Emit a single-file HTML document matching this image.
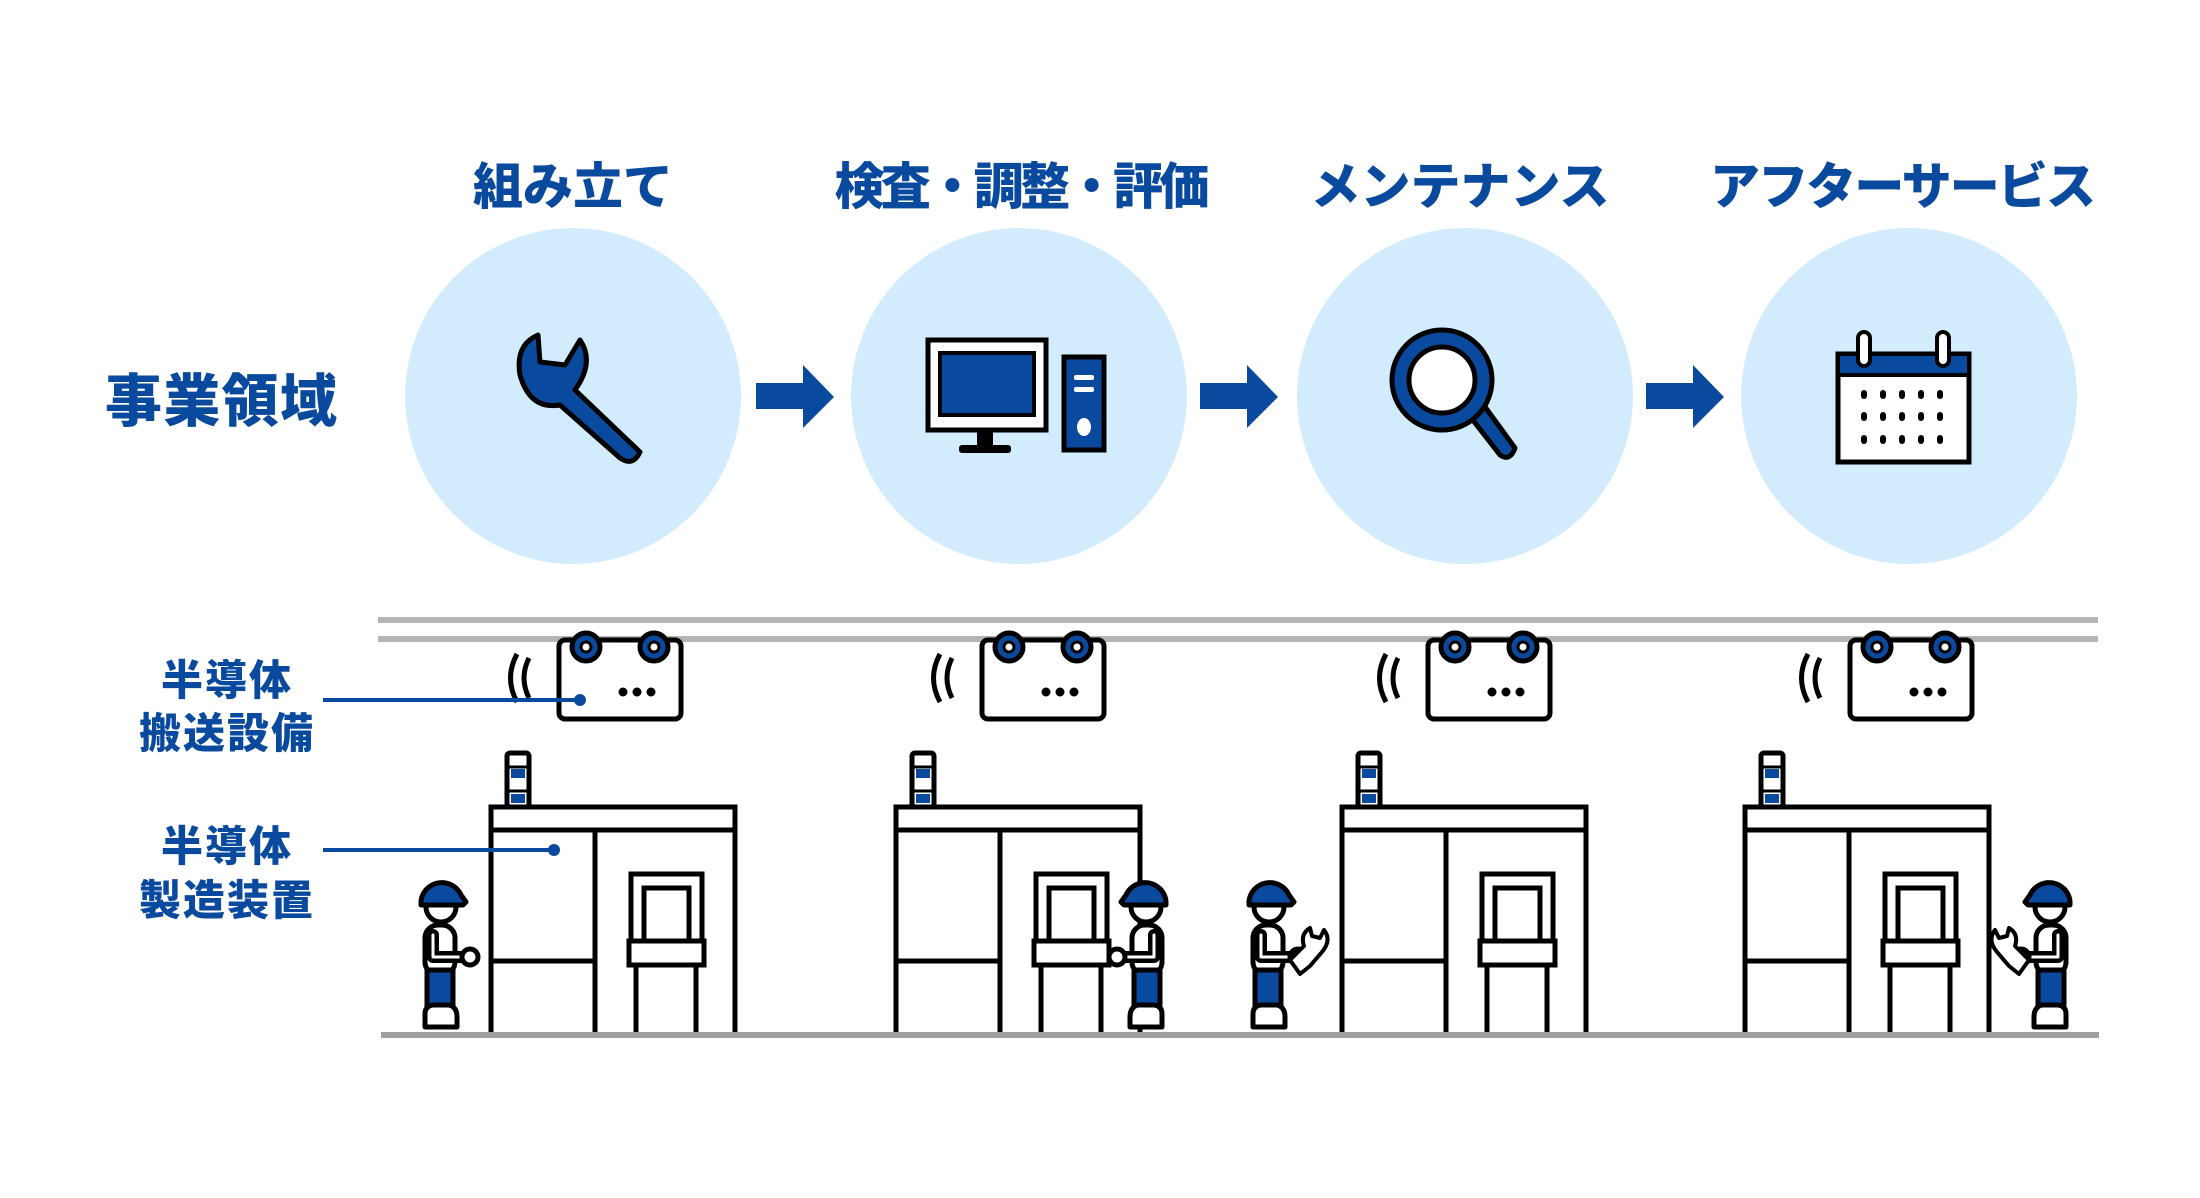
<!DOCTYPE html>
<html><head><meta charset="utf-8"><style>
html,body{margin:0;padding:0;background:#fff;}
svg{display:block}
text{font-family:"Liberation Sans","Noto Sans CJK JP",sans-serif;font-weight:900;fill:#0a4a9e}
</style></head><body>
<svg width="2200" height="1198" viewBox="0 0 2200 1198" xmlns="http://www.w3.org/2000/svg">
<defs>
<g id="worker" stroke="#000" stroke-width="5" stroke-linejoin="round" stroke-linecap="round">
  <rect x="6" y="48" width="30" height="50" rx="13" fill="#fff"/>
  <rect x="8" y="93" width="26" height="44" fill="#0a4a9e"/>
  <line x1="8" y1="93" x2="34" y2="93"/>
  <path d="M6 137 Q6 129 14 128 L30 128 Q38 130 38 140 L38 150 L6 150 Z" fill="#fff"/>
  <circle cx="22" cy="30" r="15" fill="#fff"/>
  <path d="M2 24 A21 21 0 0 1 42 18 L47 25 L44 28 L2 28 Z" fill="#0a4a9e"/>
  <path d="M14 58 L14 80 L46 80" fill="none" stroke-width="12" stroke="#000"/>
  <path d="M14 58 L14 80 L46 80" fill="none" stroke-width="3" stroke="#fff"/>
  <circle cx="51" cy="80" r="8" fill="#fff"/>
</g>
<g id="machine" stroke="#000" stroke-width="5" fill="#fff">
  <rect x="16" y="-54" width="22" height="54" rx="3" fill="#fff"/>
  <rect x="20" y="-38" width="14" height="9" fill="#0a4a9e" stroke="none"/>
  <rect x="20" y="-13" width="14" height="9" fill="#0a4a9e" stroke="none"/>
  <line x1="18" y1="-40" x2="36" y2="-40" stroke-width="3"/>
  <line x1="18" y1="-16" x2="36" y2="-16" stroke-width="3"/>
  <rect x="0" y="0" width="244" height="23" fill="#fff"/>
  <path d="M0 23 V225 M244 23 V225 M104 23 V225 M0 154 H104" fill="none"/>
  <rect x="140" y="67" width="71" height="67"/>
  <rect x="153" y="81" width="45" height="53"/>
  <rect x="138" y="134" width="75" height="24"/>
  <path d="M145 158 V225 M205 158 V225" fill="none"/>
</g>
<g id="carrier" stroke="#000" stroke-width="5">
  <rect x="0" y="0" width="122" height="79" rx="6" fill="#fff"/>
  <circle cx="27" cy="7" r="14" fill="#0a4a9e"/>
  <circle cx="27" cy="7" r="5" fill="#fff" stroke-width="3"/>
  <circle cx="95" cy="7" r="14" fill="#0a4a9e"/>
  <circle cx="95" cy="7" r="5" fill="#fff" stroke-width="3"/>
  <circle cx="64" cy="52" r="4.5" fill="#000" stroke="none"/>
  <circle cx="78" cy="52" r="4.5" fill="#000" stroke="none"/>
  <circle cx="92" cy="52" r="4.5" fill="#000" stroke="none"/>
  <path d="M-30 18 Q-40 38 -30 58 M-42 14 Q-55 38 -42 62" fill="none" stroke-width="5"/>
</g>
<path id="arrow" d="M0 18 H47 V0 L78 32 L47 63 V44 H0 Z" fill="#0a4a9e"/>
<g id="minwrench" stroke="#000" stroke-width="4" fill="#fff" stroke-linejoin="round">
  <path d="M0 0 L14 -14 Q10 -26 20 -32 L22 -24 L30 -22 L34 -30 Q42 -20 32 -8 L20 6 L10 14 Z"/>
</g>
</defs>

<text x="573" y="204" font-size="50" text-anchor="middle" textLength="200">組み立て</text>
<text x="1022" y="204" font-size="50" text-anchor="middle" textLength="375">検査・調整・評価</text>
<text x="1460" y="204" font-size="50" text-anchor="middle" textLength="299">メンテナンス</text>
<text x="1903" y="204" font-size="50" text-anchor="middle" textLength="386">アフターサービス</text>
<text x="221" y="421" font-size="57" text-anchor="middle" textLength="232">事業領域</text>

<circle cx="573" cy="396" r="168" fill="#d3ecfd"/>
<circle cx="1019" cy="396" r="168" fill="#d3ecfd"/>
<circle cx="1465" cy="396" r="168" fill="#d3ecfd"/>
<circle cx="1909" cy="396" r="168" fill="#d3ecfd"/>
<use href="#arrow" x="756" y="365"/>
<use href="#arrow" x="1200" y="365"/>
<use href="#arrow" x="1646" y="365"/>

<!-- wrench -->
<path d="M538 335 Q515 345 520 375 Q530 410 560 405 L620 458 Q633 467 640 452 L575 390 Q595 362 580 340 L565 365 L540 362 Z" fill="#0a4a9e" stroke="#000" stroke-width="5" stroke-linejoin="round"/>
<!-- computer -->
<rect x="928" y="340" width="118" height="90" fill="#fff" stroke="#000" stroke-width="5"/>
<rect x="940" y="353" width="94" height="62" fill="#0a4a9e" stroke="#000" stroke-width="4"/>
<rect x="977" y="430" width="16" height="16" fill="#000"/>
<rect x="959" y="445" width="52" height="8" rx="3" fill="#000"/>
<rect x="1064" y="357" width="40" height="93" fill="#0a4a9e" stroke="#000" stroke-width="5"/>
<rect x="1074" y="375" width="20" height="5" rx="2" fill="#fff"/>
<rect x="1074" y="387" width="20" height="5" rx="2" fill="#fff"/>
<ellipse cx="1084" cy="427" rx="7" ry="9" fill="#fff"/>
<!-- magnifier -->
<path d="M1465 410 L1500 455 Q1510 462 1515 448 L1480 400 Z" fill="#0a4a9e" stroke="#000" stroke-width="5" stroke-linejoin="round"/>
<circle cx="1442" cy="380" r="50" fill="#0a4a9e" stroke="#000" stroke-width="5"/>
<circle cx="1442" cy="380" r="33" fill="#fff" stroke="#000" stroke-width="5"/>
<!-- calendar -->
<rect x="1838" y="354" width="131" height="108" fill="#fff" stroke="#000" stroke-width="5"/>
<rect x="1840" y="356" width="127" height="18" fill="#0a4a9e"/>
<line x1="1838" y1="375" x2="1969" y2="375" stroke="#000" stroke-width="4"/>
<rect x="1858" y="332" width="12" height="34" rx="6" fill="#fff" stroke="#000" stroke-width="4"/>
<rect x="1937" y="332" width="12" height="34" rx="6" fill="#fff" stroke="#000" stroke-width="4"/>
<g fill="#000">
<rect x="1861" y="390" width="6" height="9" rx="3"/><rect x="1880" y="390" width="6" height="9" rx="3"/><rect x="1899" y="390" width="6" height="9" rx="3"/><rect x="1918" y="390" width="6" height="9" rx="3"/><rect x="1937" y="390" width="6" height="9" rx="3"/>
<rect x="1861" y="412" width="6" height="9" rx="3"/><rect x="1880" y="412" width="6" height="9" rx="3"/><rect x="1899" y="412" width="6" height="9" rx="3"/><rect x="1918" y="412" width="6" height="9" rx="3"/><rect x="1937" y="412" width="6" height="9" rx="3"/>
<rect x="1861" y="435" width="6" height="9" rx="3"/><rect x="1880" y="435" width="6" height="9" rx="3"/><rect x="1899" y="435" width="6" height="9" rx="3"/><rect x="1918" y="435" width="6" height="9" rx="3"/><rect x="1937" y="435" width="6" height="9" rx="3"/>
</g>

<!-- rails -->
<rect x="378" y="617" width="1720" height="6" fill="#b5b5b5"/>
<rect x="378" y="636" width="1720" height="6" fill="#b5b5b5"/>
<rect x="381" y="1032" width="1718" height="6" fill="#a0a0a0"/>

<use href="#carrier" x="559" y="640"/>
<use href="#carrier" x="982" y="640"/>
<use href="#carrier" x="1428" y="640"/>
<use href="#carrier" x="1850" y="640"/>

<use href="#machine" x="491" y="807"/>
<use href="#machine" x="896" y="807"/>
<use href="#machine" x="1342" y="807"/>
<use href="#machine" x="1745" y="807"/>

<use href="#worker" x="419" y="877"/>
<use href="#worker" transform="translate(1168,877) scale(-1,1)"/>
<use href="#worker" x="1247" y="877"/>
<use href="#minwrench" x="1290" y="960"/>
<use href="#worker" transform="translate(2072,877) scale(-1,1)"/>
<use href="#minwrench" transform="translate(2029,960) scale(-1,1)"/>

<!-- labels -->
<text x="226" y="695" font-size="42" text-anchor="middle" textLength="130">半導体</text>
<text x="226" y="748" font-size="42" text-anchor="middle" textLength="174">搬送設備</text>
<text x="226" y="861" font-size="42" text-anchor="middle" textLength="130">半導体</text>
<text x="226" y="915" font-size="42" text-anchor="middle" textLength="174">製造装置</text>
<line x1="323" y1="700" x2="578" y2="700" stroke="#0a4a9e" stroke-width="4"/>
<circle cx="580" cy="700" r="6" fill="#0a4a9e"/>
<line x1="323" y1="850" x2="552" y2="850" stroke="#0a4a9e" stroke-width="4"/>
<circle cx="554" cy="850" r="6" fill="#0a4a9e"/>
</svg>
</body></html>
